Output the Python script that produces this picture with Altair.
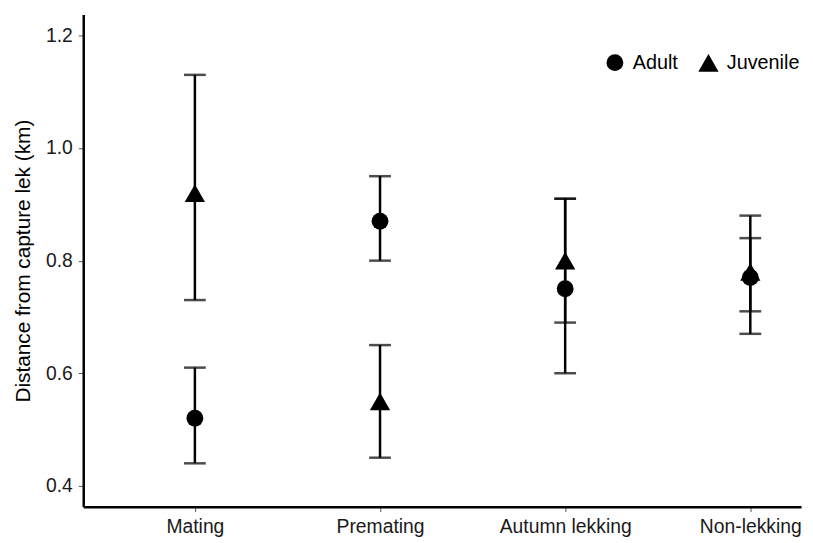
import altair as alt
import pandas as pd

periods = ["Mating", "Premating", "Autumn lekking", "Non-lekking"]
ages = ["Adult", "Juvenile"]
adult_mean = [0.52, 0.87, 0.75, 0.77]
adult_low = [0.44, 0.80, 0.60, 0.67]
adult_high = [0.61, 0.95, 0.91, 0.88]
juv_mean = [0.92, 0.55, 0.80, 0.78]
juv_low = [0.73, 0.45, 0.69, 0.71]
juv_high = [1.13, 0.65, 0.91, 0.84]

rows = []
for i, p in enumerate(periods):
    rows.append(dict(idx=i, period=p, age="Adult", mean=adult_mean[i], low=adult_low[i], high=adult_high[i]))
    rows.append(dict(idx=i, period=p, age="Juvenile", mean=juv_mean[i], low=juv_low[i], high=juv_high[i]))
df = pd.DataFrame(rows)

FONT = "Liberation Sans"
label_expr = "[" + ",".join("'%s'" % p for p in periods) + "][datum.value]"
xscale = alt.Scale(domain=[-0.603, 3.274], nice=False, zero=False)
xaxis = alt.Axis(values=[0, 1, 2, 3], labelExpr=label_expr, labelAngle=0, labelPadding=6, title=None)
x = alt.X("idx:Q", scale=xscale, axis=xaxis, title=None)
yscale = alt.Scale(domain=[0.363, 1.237], nice=False, zero=False)
YT = "Distance from capture lek (km)"
yaxis = alt.Axis(values=[0.4, 0.6, 0.8, 1.0, 1.2], format=".1f", titlePadding=12,
                 labelPadding=6, title=YT)

legend = alt.Legend(title=None, orient="none", legendX=527, legendY=38, direction="horizontal")

base = alt.Chart(df)
rules = base.mark_rule(color="black", strokeWidth=2.5).encode(
    x=x,
    y=alt.Y("low:Q", scale=yscale, axis=yaxis, title=YT),
    y2="high:Q",
)
caps_low = base.mark_tick(color="black", thickness=2.5, size=22, orient="horizontal").encode(
    x=x, y=alt.Y("low:Q", scale=yscale, axis=yaxis, title=YT))
caps_high = base.mark_tick(color="black", thickness=2.5, size=22, orient="horizontal").encode(
    x=x, y=alt.Y("high:Q", scale=yscale, axis=yaxis, title=YT))
points = base.mark_point(filled=True, opacity=1, color="black").encode(
    x=x,
    y=alt.Y("mean:Q", scale=yscale, axis=yaxis, title=YT),
    shape=alt.Shape("age:N", scale=alt.Scale(domain=ages, range=["circle", "triangle-up"]),
                    legend=legend),
    size=alt.Size("age:N", scale=alt.Scale(domain=ages, range=[290, 420]), legend=legend),
)

chart = alt.layer(rules, caps_low, caps_high, points).properties(
    width=725, height=497,
    padding={"left": 76, "top": 4, "right": 4, "bottom": 34},
    autosize=alt.AutoSizeParams(type="none"),
).configure(background="white").configure_view(strokeWidth=0, stroke="transparent").configure_axis(
    labelFontSize=19.5, labelColor="#1a1a1a", labelFont=FONT, titleFont=FONT, titleFontSize=21,
    titleFontWeight="normal", titleColor="black", domainColor="black", domainWidth=2.5,
    tickColor="#555555", tickSize=5, tickWidth=1, grid=False,
).configure_legend(
    labelFontSize=20, labelFont=FONT, labelColor="black",
    symbolFillColor="black", symbolStrokeColor="black", symbolStrokeWidth=0, columnPadding=20,
    labelOffset=8,
)

chart.save("out.html", embed_options={"renderer": "svg", "actions": False})
